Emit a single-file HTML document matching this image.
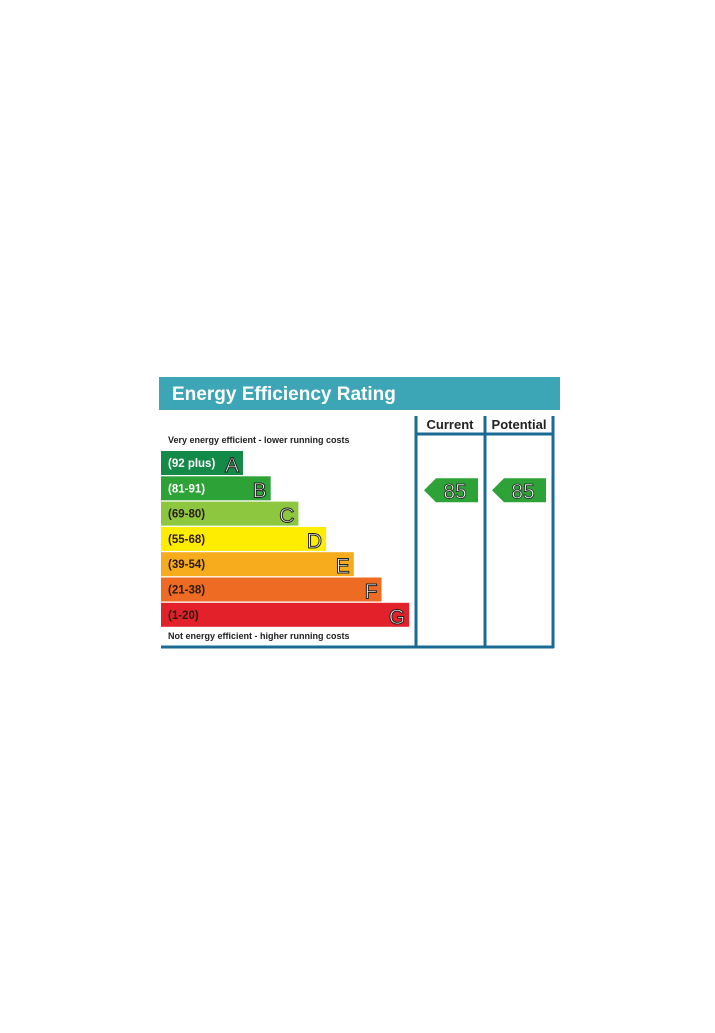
<!DOCTYPE html>
<html><head><meta charset="utf-8"><style>
html,body{margin:0;padding:0;background:#fff;width:715px;height:1033px;overflow:hidden}
svg{display:block;font-family:"Liberation Sans",Arial,sans-serif}
</style></head><body>
<svg id="c" width="715" height="1033" viewBox="0 0 715 1033">
<rect x="159" y="377" width="401" height="33" fill="#3da6b6"/>
<text x="172" y="400" font-size="19" font-weight="bold" fill="#fff">Energy Efficiency Rating</text>
<g stroke="#1a6a96" stroke-width="3" fill="none">
<line x1="416" y1="416" x2="416" y2="648"/>
<line x1="485" y1="416" x2="485" y2="648"/>
<line x1="553" y1="416" x2="553" y2="648"/>
<line x1="416" y1="434" x2="553" y2="434"/>
<line x1="161" y1="647" x2="554" y2="647"/>
</g>
<text x="450" y="429" font-size="13" font-weight="bold" text-anchor="middle" fill="#222">Current</text>
<text x="519" y="429" font-size="13" font-weight="bold" text-anchor="middle" fill="#222">Potential</text>
<text x="168" y="443" font-size="9" font-weight="bold" fill="#222">Very energy efficient - lower running costs</text>
<text x="168" y="639" font-size="9" font-weight="bold" fill="#222">Not energy efficient - higher running costs</text>
<g id="bars"></g>
<g id="arrows"></g>
</svg>
<script>
const bands=["A","B","C","D","E","F","G"];
const ranges=["(92 plus)","(81-91)","(69-80)","(55-68)","(39-54)","(21-38)","(1-20)"];
const colors=["#138a48","#2da337","#8dc63f","#ffed00","#f7ac1d","#ee6b23","#e3212b"];
const currentRating=[85];
const potentialRating=[85];
const ns="http://www.w3.org/2000/svg";
const barX=161,barTop=451,step=25.3,barH=24,w0=82,wStep=27.7;
function bandY(i){return barTop+i*step;}
function bandOf(v){if(v>=92)return 0;if(v>=81)return 1;if(v>=69)return 2;if(v>=55)return 3;if(v>=39)return 4;if(v>=21)return 5;return 6;}
const g=document.getElementById('bars');
bands.forEach((b,i)=>{
const y=bandY(i),w=w0+i*wStep;
const r=document.createElementNS(ns,'rect');
r.setAttribute('x',barX);r.setAttribute('y',y);r.setAttribute('width',w);r.setAttribute('height',barH);r.setAttribute('fill',colors[i]);


g.appendChild(r);
const t=document.createElementNS(ns,'text');
t.setAttribute('x',168);t.setAttribute('y',y+16);t.setAttribute('font-size','11.5');t.setAttribute('font-weight','bold');
t.setAttribute('fill',i<2?'#fff':'#2a1a10');t.textContent=ranges[i];


g.appendChild(t);
const L=document.createElementNS(ns,'text');
L.setAttribute('x',barX+w-4);L.setAttribute('y',y+21);L.setAttribute('font-size','21');L.setAttribute('text-anchor','end');
L.setAttribute('fill','#fff');L.setAttribute('stroke','#222');L.setAttribute('stroke-width','1');L.textContent=b;


g.appendChild(L);
});
const ag=document.getElementById('arrows');
function arrow(x0,v,name){
const i=bandOf(v);const y=bandY(i)+2;
const p=document.createElementNS(ns,'polygon');
p.setAttribute('points',`${x0},${y+12} ${x0+12},${y} ${x0+54},${y} ${x0+54},${y+24} ${x0+12},${y+24}`);
p.setAttribute('fill',colors[i]);


ag.appendChild(p);
const t=document.createElementNS(ns,'text');
t.setAttribute('x',x0+31);t.setAttribute('y',y+20);t.setAttribute('font-size','21');t.setAttribute('text-anchor','middle');
t.setAttribute('fill','#fff');t.setAttribute('stroke','#222');t.setAttribute('stroke-width','0.8');t.textContent=v;


ag.appendChild(t);
}
arrow(424,currentRating[0],'current-rating');
arrow(492,potentialRating[0],'potential-rating');
</script>
</body></html>
